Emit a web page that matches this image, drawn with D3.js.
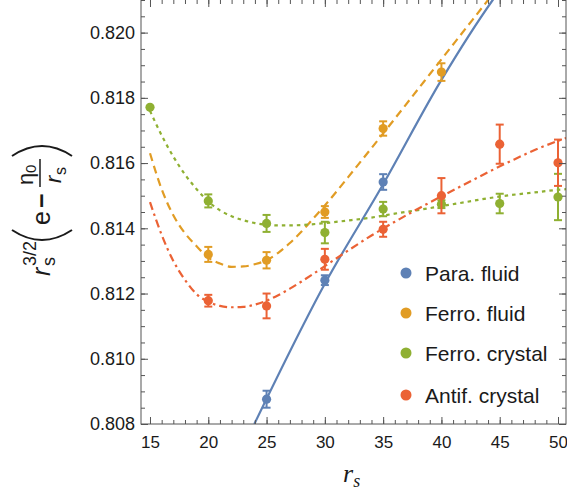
<!DOCTYPE html>
<html lang="en">
<head>
    <meta charset="UTF-8">
    <title>Energy vs rs</title>
    <script src="https://cdn.jsdelivr.net/npm/d3@7/dist/d3.min.js"></script>
    <style type="text/css">
        body { margin: 0; background: #fff; }
        text { font-family: "Liberation Sans", Arial, sans-serif; fill: #1a1a1a; }
        .fit { fill: none; stroke-width: 2.2; }
    </style>
</head>
<body>
<svg id="chart"></svg>
<script>

    // Size of the SVG
    var width = 567;
    var height = 492;

    // Plot frame
    var frameLeft = 141, frameRight = 566, frameTop = 0, frameBottom = 424;

    // Series names and colours
    var seriesNames = ["Para. fluid", "Ferro. fluid", "Ferro. crystal", "Antif. crystal"];
    var seriesColors = ["#5E81B5", "#E19C24", "#8FB032", "#EB6235"];

    // Data points (rs, value, error)
    var paraRs = [25, 30, 35];
    var paraVal = [0.80876, 0.81241, 0.81542];
    var paraErr = [0.00026, 0.00015, 0.00024];

    var ferroFluidRs = [20, 25, 30, 35, 40];
    var ferroFluidVal = [0.8132, 0.81302, 0.8145, 0.81706, 0.81879];
    var ferroFluidErr = [0.00023, 0.00025, 0.00018, 0.00022, 0.00027];

    var ferroCrystRs = [15, 20, 25, 30, 35, 40, 45, 50];
    var ferroCrystVal = [0.81771, 0.81484, 0.81415, 0.81387, 0.81459, 0.81474, 0.81476, 0.81496];
    var ferroCrystErr = [0, 0.0002, 0.00026, 0.00033, 0.00022, 0.00012, 0.0003, 0.00071];

    var antifRs = [20, 25, 30, 35, 40, 45, 50];
    var antifVal = [0.81178, 0.81162, 0.81305, 0.81397, 0.815, 0.81658, 0.81601];
    var antifErr = [0.00018, 0.00038, 0.00032, 0.00023, 0.00054, 0.0006, 0.00071];

    // Fit curves
    var paraFitRs = [23.95, 30, 35, 40, 44.4, 45];
    var paraFitVal = [0.808, 0.8123, 0.81535, 0.81855, 0.821, 0.8213];

    var ferroFluidFitRs = [15, 16, 17, 18, 19, 20, 21, 22, 23, 24, 25, 26, 27, 28, 29, 30, 32, 34, 36, 38, 40, 42, 44, 45];
    var ferroFluidFitVal = [0.8163, 0.8152, 0.8144, 0.81385, 0.81345, 0.8131, 0.81292, 0.81282, 0.81283, 0.8129, 0.81302,
        0.81325, 0.81355, 0.8139, 0.8143, 0.8147, 0.81557, 0.81646, 0.81736, 0.81827, 0.81918, 0.82009, 0.821, 0.82146];

    var ferroCrystFitRs = [15, 16, 17, 18, 19, 20, 21, 22, 23, 24, 25, 26, 27, 28, 30, 32, 34, 36, 38, 40, 42, 44, 46, 48, 50, 50.7];
    var ferroCrystFitVal = [0.8176, 0.81685, 0.8162, 0.81565, 0.8152, 0.81482, 0.81455, 0.81437, 0.81425, 0.81416, 0.81411,
        0.81409, 0.81409, 0.8141, 0.81416, 0.81424, 0.81433, 0.81445, 0.81456, 0.81468, 0.8148, 0.81492, 0.81502, 0.8151, 0.81518, 0.8152];

    var antifFitRs = [15, 16, 17, 18, 19, 20, 21, 22, 23, 24, 25, 26, 27, 28, 29, 30, 32, 34, 36, 38, 40, 42, 44, 46, 48, 50, 50.7];
    var antifFitVal = [0.8148, 0.8138, 0.813, 0.81242, 0.81198, 0.81175, 0.81162, 0.81158, 0.81159, 0.81166, 0.81178, 0.81195,
        0.81215, 0.81237, 0.8126, 0.81284, 0.81332, 0.81378, 0.8142, 0.8146, 0.81498, 0.81535, 0.81572, 0.81607, 0.8164, 0.81668, 0.81677];

    // Ticks
    var xMajorTicks = [15, 20, 25, 30, 35, 40, 45, 50];
    var yMajorTicks = [0.808, 0.810, 0.812, 0.814, 0.816, 0.818, 0.820];

    var series = [
        {rs: paraRs, val: paraVal, err: paraErr, fitRs: paraFitRs, fitVal: paraFitVal, dash: null},
        {rs: ferroFluidRs, val: ferroFluidVal, err: ferroFluidErr, fitRs: ferroFluidFitRs, fitVal: ferroFluidFitVal, dash: "8,5"},
        {rs: ferroCrystRs, val: ferroCrystVal, err: ferroCrystErr, fitRs: ferroCrystFitRs, fitVal: ferroCrystFitVal, dash: "3.5,4"},
        {rs: antifRs, val: antifVal, err: antifErr, fitRs: antifFitRs, fitVal: antifFitVal, dash: "8,4,2.5,4"}
    ];

    var x = d3.scaleLinear().domain([14.228, 50.686]).range([frameLeft, frameRight]);
    var y = d3.scaleLinear().domain([0.808, 0.821]).range([frameBottom, frameTop]);

    var svg = d3.select("#chart")
        .attr("width", width)
        .attr("height", height);

    svg.append("clipPath").attr("id", "plotClip")
        .append("rect")
        .attr("x", frameLeft).attr("y", frameTop)
        .attr("width", frameRight - frameLeft).attr("height", frameBottom - frameTop);

    // Fit curves
    var line = d3.line()
        .x(function (d) { return x(d[0]); })
        .y(function (d) { return y(d[1]); })
        .curve(d3.curveMonotoneX);

    var fits = svg.append("g").attr("clip-path", "url(#plotClip)");
    series.forEach(function (s, i) {
        var pts = s.fitRs.map(function (r, j) { return [r, s.fitVal[j]]; });
        fits.append("path")
            .attr("class", "fit")
            .attr("d", line(pts))
            .attr("stroke", seriesColors[i])
            .attr("stroke-dasharray", s.dash);
    });

    // Points with error bars
    var marks = svg.append("g").attr("clip-path", "url(#plotClip)");
    series.forEach(function (s, i) {
        var pts = s.rs.map(function (r, j) { return {rs: r, v: s.val[j], e: s.err[j]}; });
        var g = marks.append("g").attr("stroke", seriesColors[i]).attr("fill", seriesColors[i]);
        var bars = pts.filter(function (d) { return d.e > 0; });
        g.selectAll("line.bar").data(bars).enter().append("line")
            .attr("x1", function (d) { return x(d.rs); })
            .attr("x2", function (d) { return x(d.rs); })
            .attr("y1", function (d) { return y(d.v - d.e); })
            .attr("y2", function (d) { return y(d.v + d.e); })
            .attr("stroke-width", 2);
        [-1, 1].forEach(function (sign) {
            g.selectAll("line.cap" + sign).data(bars).enter().append("line")
                .attr("x1", function (d) { return x(d.rs) - 4; })
                .attr("x2", function (d) { return x(d.rs) + 4; })
                .attr("y1", function (d) { return y(d.v + sign * d.e); })
                .attr("y2", function (d) { return y(d.v + sign * d.e); })
                .attr("stroke-width", 2);
        });
        g.selectAll("circle").data(pts).enter().append("circle")
            .attr("cx", function (d) { return x(d.rs); })
            .attr("cy", function (d) { return y(d.v); })
            .attr("r", 4.6)
            .attr("stroke", "none");
    });

    // Frame and ticks (ticks point inward)
    var frameColor = "#555";
    function styleAxis(g) {
        g.select(".domain").remove();
        g.selectAll(".tick line").attr("stroke", frameColor);
        g.selectAll(".tick text").attr("font-size", 18).attr("fill", "#1a1a1a")
            .style("font-family", "'Liberation Sans', Arial, sans-serif");
    }

    var xMinor = d3.range(15, 51, 1);
    var yMinor = d3.range(0.808, 0.8212, 0.0005);

    svg.append("g").attr("transform", "translate(0," + frameBottom + ")")
        .call(d3.axisBottom(x).tickValues(xMinor).tickSize(-4).tickFormat(""))
        .call(styleAxis);
    svg.append("g").attr("transform", "translate(0," + frameBottom + ")")
        .call(d3.axisBottom(x).tickValues(xMajorTicks).tickSize(-7).tickPadding(12).tickFormat(d3.format("d")))
        .call(styleAxis)
        .selectAll(".tick text").attr("font-size", 17);
    svg.append("g").attr("transform", "translate(0," + frameTop + ")")
        .call(d3.axisTop(x).tickValues(xMinor).tickSize(-4).tickFormat(""))
        .call(styleAxis);
    svg.append("g").attr("transform", "translate(0," + frameTop + ")")
        .call(d3.axisTop(x).tickValues(xMajorTicks).tickSize(-7).tickFormat(""))
        .call(styleAxis);

    svg.append("g").attr("transform", "translate(" + frameLeft + ",0)")
        .call(d3.axisLeft(y).tickValues(yMinor).tickSize(-4).tickFormat(""))
        .call(styleAxis);
    svg.append("g").attr("transform", "translate(" + frameLeft + ",0)")
        .call(d3.axisLeft(y).tickValues(yMajorTicks).tickSize(-7).tickPadding(6).tickFormat(d3.format(".3f")))
        .call(styleAxis);
    svg.append("g").attr("transform", "translate(" + frameRight + ",0)")
        .call(d3.axisRight(y).tickValues(yMinor).tickSize(-4).tickFormat(""))
        .call(styleAxis);
    svg.append("g").attr("transform", "translate(" + frameRight + ",0)")
        .call(d3.axisRight(y).tickValues(yMajorTicks).tickSize(-7).tickFormat(""))
        .call(styleAxis);

    svg.append("rect")
        .attr("x", frameLeft).attr("y", frameTop - 1)
        .attr("width", frameRight - frameLeft).attr("height", frameBottom - frameTop + 1)
        .attr("fill", "none").attr("stroke", frameColor).attr("stroke-width", 1);

    // Legend
    var legend = svg.append("g");
    var legendY = [273, 313, 353, 395];
    seriesNames.forEach(function (name, i) {
        legend.append("circle")
            .attr("cx", 406).attr("cy", legendY[i]).attr("r", 5.5)
            .attr("fill", seriesColors[i]);
        legend.append("text")
            .attr("x", 425).attr("y", legendY[i]).attr("dy", "0.36em")
            .attr("font-size", 21)
            .text(name);
    });

    // x axis label
    var xl = svg.append("text")
        .attr("x", 343).attr("y", 482)
        .style("font-family", "'Liberation Serif', 'Times New Roman', serif")
        .style("font-style", "italic")
        .attr("font-size", 26);
    xl.append("tspan").text("r");
    xl.append("tspan").attr("dy", 5).attr("font-size", 18).text("s");

    // y axis label: r_s^{3/2} ( e − η0 / r_s ), rotated
    var yl = svg.append("g").attr("transform", "translate(50,280) rotate(-90)");
    yl.append("text").attr("x", 4).attr("y", 0).attr("font-size", 25).style("font-style", "italic").text("r");
    yl.append("text").attr("x", 14).attr("y", 5).attr("font-size", 18).text("s");
    yl.append("text").attr("x", 14).attr("y", -14).attr("font-size", 18).text("3/2");
    yl.append("path").attr("d", "M50,-38 Q30,-8 50,22")
        .attr("fill", "none").attr("stroke", "#1a1a1a").attr("stroke-width", 2);
    yl.append("text").attr("x", 55).attr("y", 0).attr("font-size", 25).text("e");
    yl.append("text").attr("x", 72).attr("y", 0).attr("font-size", 25).attr("font-weight", "bold").text("\u2212");
    yl.append("text").attr("x", 95).attr("y", -17).attr("font-size", 22).text("\u03B7");
    yl.append("text").attr("x", 107).attr("y", -14).attr("font-size", 15).text("0");
    yl.append("line").attr("x1", 93).attr("x2", 121).attr("y1", -10).attr("y2", -10)
        .attr("stroke", "#1a1a1a").attr("stroke-width", 1.5);
    yl.append("text").attr("x", 97).attr("y", 11).attr("font-size", 22).style("font-style", "italic").text("r");
    yl.append("text").attr("x", 105).attr("y", 16).attr("font-size", 16).text("s");
    yl.append("path").attr("d", "M124,-38 Q144,-8 124,22")
        .attr("fill", "none").attr("stroke", "#1a1a1a").attr("stroke-width", 2);

</script>
</body>
</html>
